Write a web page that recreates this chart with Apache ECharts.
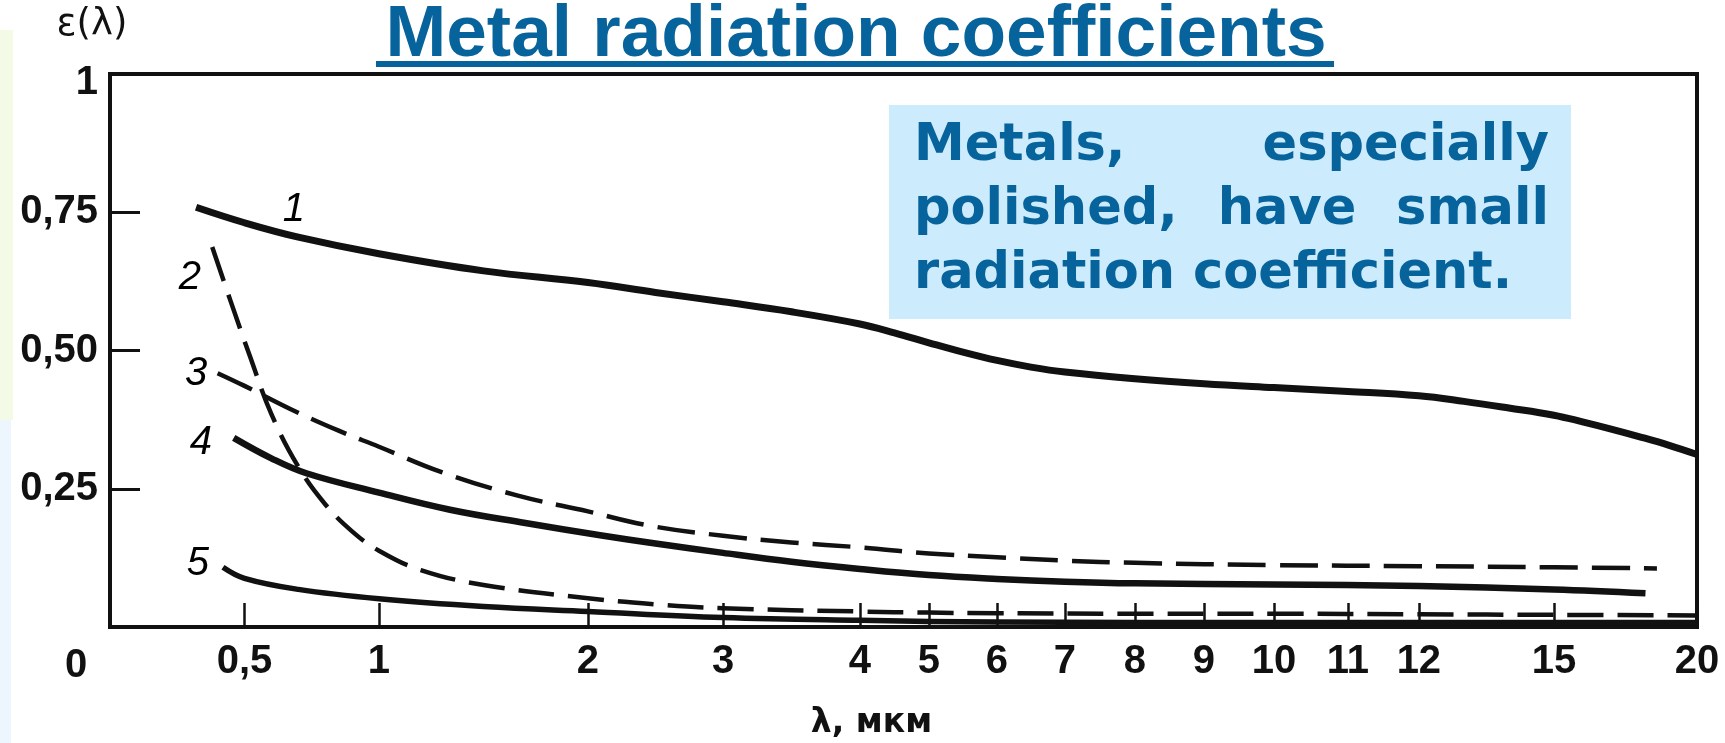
<!DOCTYPE html>
<html>
<head>
<meta charset="utf-8">
<script src="https://cdn.jsdelivr.net/npm/echarts@6/dist/echarts.min.js"></script>
<style>
html,body{margin:0;padding:0;background:#fff;}
#chart{width:1725px;height:743px;}
</style>
</head>
<body>
<div id="chart"></div>
<script>
// ---- Axis ticks (λ, µm) and their labels ----
const lambdaTicks = [0.5, 1, 2, 3, 4, 5, 6, 7, 8, 9, 10, 11, 12, 15, 20];
const lambdaTickLabels = ['0,5', '1', '2', '3', '4', '5', '6', '7', '8', '9', '10', '11', '12', '15', '20'];
// The printed λ axis is non-uniform: scale units of each tick along the axis (origin = 0)
const lambdaScaleUnits = [1.0, 2.0, 3.554, 4.558, 5.576, 6.089, 6.595, 7.1, 7.621, 8.134, 8.654, 9.204, 9.732, 10.736, 11.8];

const epsTicks = [0.25, 0.5, 0.75, 1];
const epsTickLabels = ['0,25', '0,50', '0,75', '1'];

// ---- Curves: λ (µm) and ε(λ) ----
const lambda1 = [0.32, 0.5, 0.7, 1, 1.5, 2, 2.5, 3, 3.5, 4, 4.5, 5, 5.5, 6, 6.5, 7, 8, 9, 10, 11, 12, 13, 14, 15, 16, 17, 18, 19, 20];
const eps1    = [0.759, 0.731, 0.705, 0.675, 0.644, 0.623, 0.605, 0.588, 0.570, 0.548, 0.532, 0.514, 0.497, 0.482, 0.470, 0.461, 0.449, 0.440, 0.433, 0.426, 0.418, 0.408, 0.396, 0.383, 0.371, 0.358, 0.344, 0.329, 0.312];

const lambda2 = [0.38, 0.45, 0.52, 0.6, 0.7, 0.8, 0.9, 1.0, 1.2, 1.5, 2, 2.5, 3, 4, 5, 6, 8, 10, 12, 15, 20];
const eps2    = [0.687, 0.587, 0.49, 0.385, 0.29, 0.222, 0.173, 0.138, 0.103, 0.076, 0.052, 0.041, 0.034, 0.028, 0.026, 0.025, 0.024, 0.024, 0.023, 0.022, 0.021];

const lambda3 = [0.4, 0.5, 0.68, 0.85, 1.0, 1.3, 1.66, 2.0, 2.46, 3, 3.5, 4, 5, 6, 7, 8, 10, 12, 15, 18.6];
const eps3    = [0.459, 0.436, 0.392, 0.355, 0.326, 0.28, 0.238, 0.209, 0.183, 0.165, 0.153, 0.144, 0.133, 0.126, 0.12, 0.116, 0.112, 0.11, 0.108, 0.106];

const lambda4 = [0.46, 0.6, 0.73, 1.0, 1.34, 1.7, 2.09, 2.5, 3, 3.5, 4, 5, 6, 7, 8, 10, 12, 15, 18.2];
const eps4    = [0.342, 0.305, 0.278, 0.243, 0.212, 0.188, 0.166, 0.151, 0.134, 0.118, 0.105, 0.094, 0.087, 0.082, 0.079, 0.077, 0.074, 0.068, 0.061];

const lambda5 = [0.42, 0.5, 0.7, 1.0, 1.5, 2, 3, 4, 6, 10, 15, 20];
const eps5    = [0.108, 0.088, 0.068, 0.051, 0.037, 0.028, 0.017, 0.012, 0.009, 0.008, 0.008, 0.008];

const curveNames = ['1', '2', '3', '4', '5'];

// ---- scale helpers ----
function toAxis(l) {
  const xs = [0].concat(lambdaTicks), us = [0].concat(lambdaScaleUnits);
  for (let i = 1; i < xs.length; i++) {
    if (l <= xs[i]) return us[i - 1] + (l - xs[i - 1]) / (xs[i] - xs[i - 1]) * (us[i] - us[i - 1]);
  }
  return us[us.length - 1];
}
function pairs(ls, es) { return ls.map((l, i) => [toAxis(l), es[i]]); }

const INK = '#111111';
const BLUE = '#07639B';
const tickUnits = lambdaTicks.map(toAxis);
const LABEL_FONT = {fontFamily: 'Liberation Sans', fontWeight: 'bold', fontSize: 40, color: INK};

const chart = echarts.init(document.getElementById('chart'), null, {renderer: 'canvas'});

function lineSeries(name, ls, es, width, dash) {
  return {
    name: name, type: 'line', data: pairs(ls, es),
    showSymbol: false, smooth: 0.4,
    lineStyle: {color: INK, width: width, type: dash || 'solid', cap: 'butt', join: 'round'},
    silent: true, z: 3
  };
}

const option = {
  backgroundColor: '#ffffff',
  animation: false,
  grid: {left: 110, right: 28, top: 74, bottom: 116, outerBoundsMode: 'none', containLabel: false,
         show: true, borderColor: INK, borderWidth: 4},
  xAxis: {
    type: 'value', min: 0, max: 11.8,
    name: 'λ, мкм', nameLocation: 'middle', nameGap: 80,
    nameTextStyle: {fontFamily: 'DejaVu Sans', fontWeight: 'bold', fontSize: 33, color: INK, padding: [0, 64, 0, 0]},
    axisLine: {show: true, lineStyle: {color: INK, width: 4}},
    axisTick: {show: true, inside: true, length: 24, customValues: tickUnits, lineStyle: {color: INK, width: 2.5}},
    axisLabel: Object.assign({
      show: true, customValues: tickUnits, margin: 15,
      formatter: function (v) {
        for (let i = 0; i < tickUnits.length; i++) if (Math.abs(tickUnits[i] - v) < 1e-6) return lambdaTickLabels[i];
        return '';
      }
    }, LABEL_FONT),
    splitLine: {show: false}
  },
  yAxis: {
    type: 'value', min: 0, max: 1,
    name: 'ε(λ)', nameLocation: 'end', nameGap: 30,
    nameTextStyle: {fontFamily: 'DejaVu Sans', fontSize: 37, color: INK, padding: [0, 36, 0, 0]},
    axisLine: {show: true, lineStyle: {color: INK, width: 4}},
    axisTick: {show: true, inside: true, length: 30, customValues: [0.25, 0.5, 0.75], lineStyle: {color: INK, width: 3}},
    axisLabel: Object.assign({
      show: true, customValues: epsTicks, margin: 12,
      formatter: function (v) {
        for (let i = 0; i < epsTicks.length; i++) {
          if (Math.abs(epsTicks[i] - v) < 1e-6) return v === 1 ? '{low|' + epsTickLabels[i] + '}' : epsTickLabels[i];
        }
        return '';
      },
      rich: {low: {fontFamily: 'Liberation Sans', fontWeight: 'bold', fontSize: 40, color: INK, padding: [18, 0, 0, 0]}}
    }, LABEL_FONT),
    splitLine: {show: false}
  },
  series: [
    lineSeries(curveNames[0], lambda1, eps1, 7),
    lineSeries(curveNames[1], lambda2, eps2, 4.5, [36, 14]),
    lineSeries(curveNames[2], lambda3, eps3, 4.5, [38, 14]),
    lineSeries(curveNames[3], lambda4, eps4, 6.5),
    lineSeries(curveNames[4], lambda5, eps5, 5.5),
    {
      name: 'curve numbers', type: 'scatter', symbolSize: 0, silent: true, z: 4,
      itemStyle: {opacity: 1},
      data: [
        {value: [toAxis(0.684), 0.754], name: curveNames[0]},
        {value: [toAxis(0.297), 0.631], name: curveNames[1]},
        {value: [toAxis(0.320), 0.457], name: curveNames[2]},
        {value: [toAxis(0.338), 0.333], name: curveNames[3]},
        {value: [toAxis(0.327), 0.114], name: curveNames[4]}
      ],
      label: {show: true, position: 'inside', formatter: '{b}', fontFamily: 'Liberation Sans', fontStyle: 'italic', fontSize: 40, color: '#000', opacity: 1}
    }
  ],
  graphic: [
    {type: 'rect', shape: {x: 0, y: 30, width: 13, height: 390}, style: {fill: '#F3FBE7'}, silent: true, z: 0},
    {type: 'rect', shape: {x: 0, y: 420, width: 11, height: 323}, style: {fill: '#EEF6FD'}, silent: true, z: 0},
    {type: 'text', x: 76, y: 666, style: {text: '0', fontFamily: 'Liberation Sans', fontWeight: 'bold', fontSize: 40, fill: INK, align: 'center', verticalAlign: 'middle'}, z: 5},
    {type: 'text', x: 856, y: 36, style: {text: 'Metal radiation coefficients', fontFamily: 'Liberation Sans', fontWeight: 'bold', fontSize: 73, fill: BLUE, align: 'center', verticalAlign: 'middle'}, z: 10},
    {type: 'rect', shape: {x: 376, y: 61, width: 958, height: 6}, style: {fill: BLUE}, z: 10},
    {type: 'rect', shape: {x: 889, y: 105, width: 682, height: 214}, style: {fill: '#CCEBFC'}, z: 8},
    {type: 'text', x: 914, y: 147, style: {text: 'Metals,', fontFamily: 'DejaVu Sans', fontWeight: 'bold', fontSize: 51, fill: BLUE, align: 'left', verticalAlign: 'middle'}, z: 9},
    {type: 'text', x: 1549, y: 147, style: {text: 'especially', fontFamily: 'DejaVu Sans', fontWeight: 'bold', fontSize: 51, fill: BLUE, align: 'right', verticalAlign: 'middle'}, z: 9},
    {type: 'text', x: 914, y: 211, style: {text: 'polished,', fontFamily: 'DejaVu Sans', fontWeight: 'bold', fontSize: 51, fill: BLUE, align: 'left', verticalAlign: 'middle'}, z: 9},
    {type: 'text', x: 1287, y: 211, style: {text: 'have', fontFamily: 'DejaVu Sans', fontWeight: 'bold', fontSize: 51, fill: BLUE, align: 'center', verticalAlign: 'middle'}, z: 9},
    {type: 'text', x: 1549, y: 211, style: {text: 'small', fontFamily: 'DejaVu Sans', fontWeight: 'bold', fontSize: 51, fill: BLUE, align: 'right', verticalAlign: 'middle'}, z: 9},
    {type: 'text', x: 914, y: 275, style: {text: 'radiation coefficient.', fontFamily: 'DejaVu Sans', fontWeight: 'bold', fontSize: 51, fill: BLUE, align: 'left', verticalAlign: 'middle'}, z: 9}
  ]
};
chart.setOption(option);
</script>
</body>
</html>
